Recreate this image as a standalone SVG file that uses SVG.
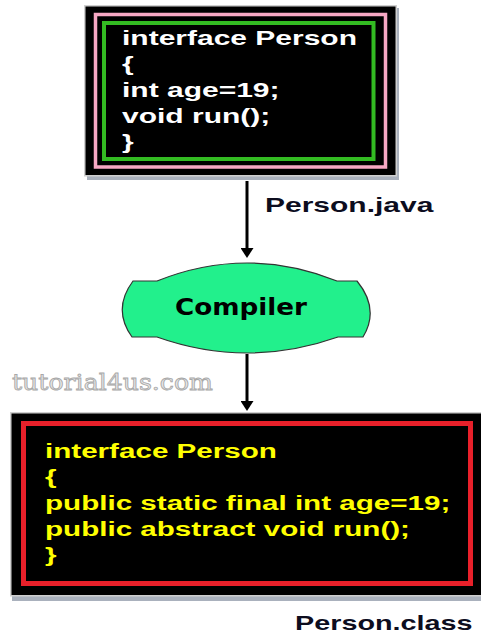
<svg xmlns="http://www.w3.org/2000/svg" width="481" height="637" viewBox="0 0 481 637">
<style>
  .code { font-family: "Liberation Sans", Arial, sans-serif; font-weight: bold; font-size: 20px; }
  .white { fill: #ffffff; }
  .yellow { fill: #ffff00; }
  .label { font-family: "Liberation Sans", Arial, sans-serif; font-weight: bold; font-size: 20px; fill: #0d0d1e; }
  .shadow { fill: #aab1bd; }
  .frame { fill: #000000; stroke: #cfcfcf; stroke-width: 1.5; }
  .conn { stroke: #000000; stroke-width: 3; fill: none; }
</style>
<defs>
  <marker id="arrow" viewBox="0 0 10 10" refX="4" refY="5" markerWidth="10" markerHeight="13" markerUnits="userSpaceOnUse" orient="auto" preserveAspectRatio="none">
    <path d="M0,0 L10,5 L0,10 Z" fill="#000000"/>
  </marker>
</defs>
<rect width="481" height="637" fill="#ffffff"/>

<g id="watermark">
  <text x="12" y="390" font-family="'DejaVu Serif', 'Liberation Serif', serif" font-size="22" textLength="201" lengthAdjust="spacingAndGlyphs" fill="#e6e6e6" stroke="#a8a8a8" stroke-width="0.8">tutorial4us.com</text>
</g>

<g id="source-node">
  <rect class="shadow" x="87" y="8" width="312" height="172"/>
  <rect class="frame" x="84.75" y="5.75" width="311.5" height="170"/>
  <rect x="95.5" y="14.5" width="290" height="152.5" fill="none" stroke="#f7a8c4" stroke-width="3.5"/>
  <rect x="104" y="23" width="269.5" height="136" fill="none" stroke="#33bb22" stroke-width="4"/>
  <g class="code white" transform="translate(122,0) scale(1.5,1)">
    <text x="0" y="45">interface Person</text>
    <text x="0" y="71">{</text>
    <text x="0" y="97">int age=19;</text>
    <text x="0" y="123">void run();</text>
    <text x="0" y="149">}</text>
  </g>
</g>

<g id="source-label">
  <text class="label" transform="translate(265,212) scale(1.5,1)" x="0" y="0">Person.java</text>
</g>

<g id="compiler-node">
  <path d="M133,281 L157,281 Q247,245 337,281 L357,281 Q380,309 363,337 L338,337 Q247,369 157,337 L132,337 Q112,309 133,281 Z" fill="#22f08c" stroke="#333333" stroke-width="1.2"/>
  <text transform="translate(241,315) scale(1.14,1)" x="0" y="0" text-anchor="middle" font-family="'DejaVu Sans', Verdana, sans-serif" font-weight="bold" font-size="23" fill="#000000">Compiler</text>
</g>

<g id="class-node">
  <rect class="shadow" x="12" y="415" width="472" height="186"/>
  <rect class="frame" x="10.75" y="412.75" width="475" height="183"/>
  <rect x="23.5" y="423.5" width="447" height="160" fill="none" stroke="#e8202a" stroke-width="5"/>
  <g class="code yellow" transform="translate(45,0) scale(1.48,1)">
    <text x="0" y="458">interface Person</text>
    <text x="0" y="484">{</text>
    <text x="0" y="510">public static final int age=19;</text>
    <text x="0" y="536">public abstract void run();</text>
    <text x="0" y="562">}</text>
  </g>
</g>

<g id="class-label">
  <text class="label" transform="translate(295,630) scale(1.44,1)" x="0" y="0">Person.class</text>
</g>

<g id="connectors">
  <line class="conn" x1="247" y1="181" x2="247" y2="252" marker-end="url(#arrow)"/>
  <line class="conn" x1="247" y1="354" x2="247" y2="405" marker-end="url(#arrow)"/>
</g>
</svg>
